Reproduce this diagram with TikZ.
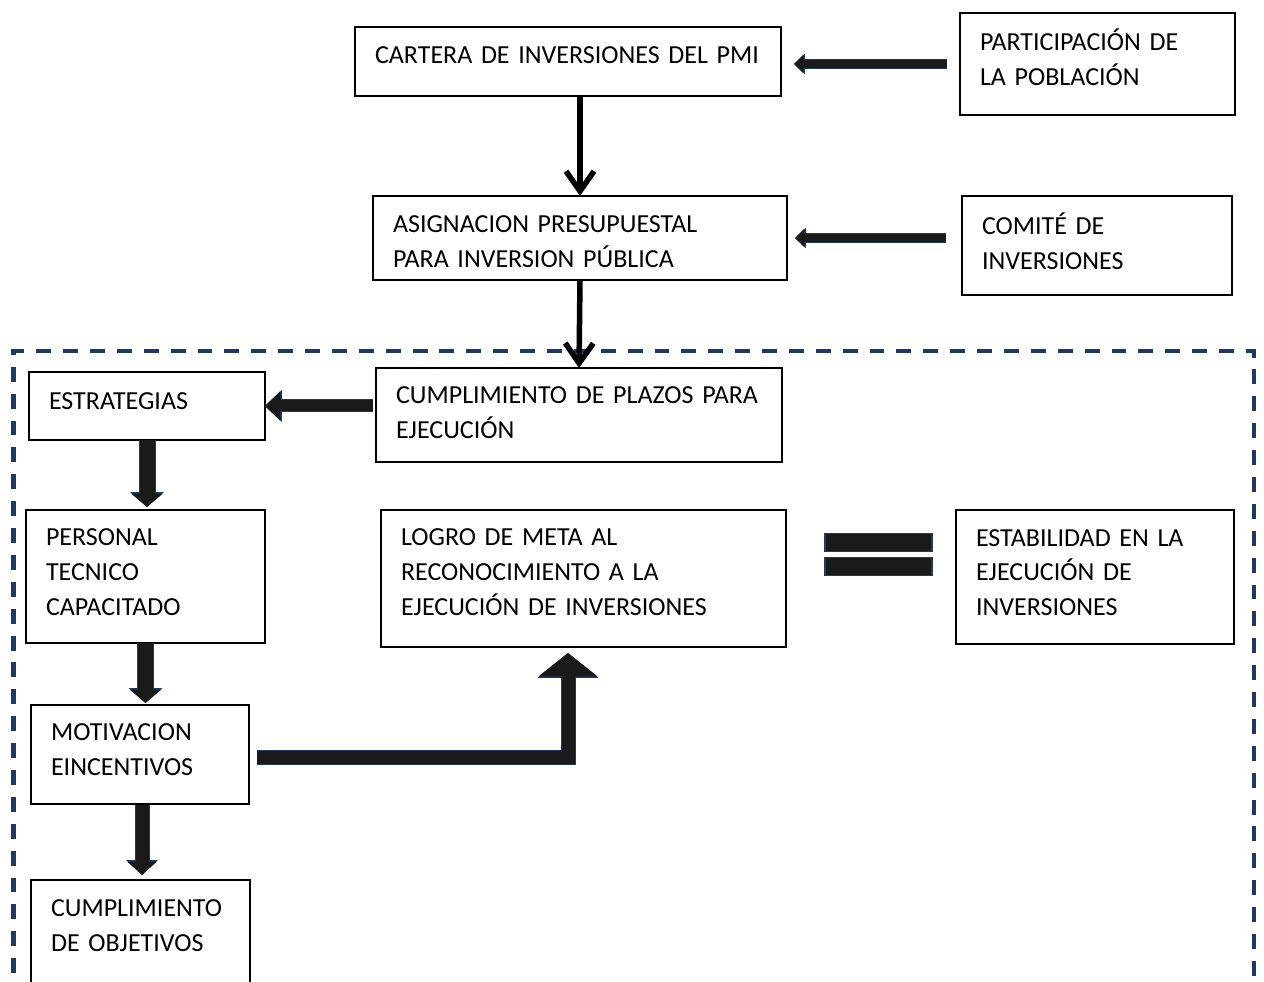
\documentclass[tikz,border=0pt]{standalone}
\usepackage{fontspec}
\setmainfont{Carlito}
\usetikzlibrary{arrows.meta}

\definecolor{navy}{HTML}{1F3864}
\definecolor{arrdark}{HTML}{1A1A1A}

\tikzset{
  box/.style={draw=black, line width=0.65pt, inner sep=0pt, outer sep=0pt, align=left,
    font=\fontsize{14.8}{19.8}\selectfont},
  lift/.style={execute at end node={\par\vspace*{#1}}},
  thinarr/.style={line width=1.1mm, -{Straight Barb[length=4mm, width=5.6mm]}},
  % block arrows: shaft, head width, head length (mm, with outline)
  blk/.style n args={3}{draw=arrdark, line width={(#1-0.4)*1mm},
    -{Triangle[width={(#2-0.4)*1mm}, length={(#3-0.3)*1mm}]},
    preaction={draw=navy, line width={#1*1mm}, -{Triangle[width={#2*1mm}, length={#3*1mm}]}}},
  eqbar/.style={fill=arrdark, draw=navy, line width=0.6pt},
  dashframe/.style={draw=navy, line width=2.3pt, dash pattern=on 8.5pt off 6.8pt}
}

\begin{document}
\begin{tikzpicture}[x=0.02cm, y=-0.02cm]
\useasboundingbox (0,0) rectangle (1264,982);
\clip (0,0) rectangle (1264,982);

% dashed frame
\draw[dashframe] (13.5,1000) -- (13.5,350.7) -- (1254,350.7) -- (1254,1000);

% boxes
\node[box, lift=2.6mm, minimum width=8.52cm, minimum height=1.38cm, text width=7.72cm] (cartera) at (568,61.5) {CARTERA DE INVERSIONES DEL PMI};
\node[box, lift=2.8mm, minimum width=5.5cm, minimum height=2.04cm, text width=4.7cm] (partic) at (1097.5,64) {PARTICIPACIÓN DE\\LA POBLACIÓN};
\node[box, lift=-1.6mm, minimum width=8.28cm, minimum height=1.68cm, text width=7.48cm] (asign) at (580,238) {ASIGNACION PRESUPUESTAL\\PARA INVERSION PÚBLICA};
\node[box, lift=1.6mm, minimum width=5.4cm, minimum height=1.98cm, text width=4.6cm] (comite) at (1097,245.5) {COMITÉ DE\\INVERSIONES};
\node[box, lift=0.8mm, minimum width=8.12cm, minimum height=1.88cm, text width=7.32cm] (plazos) at (579,415) {CUMPLIMIENTO DE PLAZOS PARA\\EJECUCIÓN};
\node[box, lift=2mm, minimum width=4.72cm, minimum height=1.36cm, text width=3.92cm] (estrat) at (147,406) {ESTRATEGIAS};
\node[box, lift=1.8mm, minimum width=4.78cm, minimum height=2.66cm, text width=3.98cm] (personal) at (145.5,576.5) {PERSONAL\\TECNICO\\CAPACITADO};
\node[box, lift=2.6mm, minimum width=8.10cm, minimum height=2.74cm, text width=7.30cm] (logro) at (583.5,578.5) {LOGRO DE META AL\\RECONOCIMIENTO A LA\\EJECUCIÓN DE INVERSIONES};
\node[box, lift=1.8mm, minimum width=5.56cm, minimum height=2.68cm, text width=4.76cm] (estab) at (1095,577) {ESTABILIDAD EN LA\\EJECUCIÓN DE\\INVERSIONES};
\node[box, lift=1.8mm, minimum width=4.36cm, minimum height=1.98cm, text width=3.56cm] (motiv) at (140,754.5) {MOTIVACION\\EINCENTIVOS};
\node[box, lift=5.8mm, minimum width=4.38cm, minimum height=2.4cm, text width=3.58cm] (objet) at (140.5,940) {CUMPLIMIENTO\\DE OBJETIVOS};

% thin arrows
\draw[thinarr] (cartera.south -| asign.north) -- (asign.north);
\draw[thinarr] (asign.south) -- (plazos.north);

% block arrows
\draw[blk={2}{4}{2.2}, shorten <=2.6mm, shorten >=2.6mm] (partic.west) -- (partic.west -| cartera.east);
\draw[blk={2}{4}{2.2}, shorten <=3.2mm, shorten >=1.6mm] (comite.west |- asign.east) -- (asign.east);
\draw[blk={2.6}{6.2}{3.4}, shorten <=0.6mm] (plazos.west |- estrat.east) -- (estrat.east);
\draw[blk={3.4}{6.6}{3}, shorten >=0.6mm] (estrat.south) -- (estrat.south |- personal.north);
\draw[blk={3.4}{6.6}{3}, shorten >=0.4mm] (personal.south) -- (personal.south |- motiv.north);
\draw[blk={3}{6.2}{3}, shorten <=0.2mm, shorten >=1mm] (motiv.south -| 142,0) -- (objet.north -| 142,0);
\coordinate (bend) at (568,757.5);
\draw[blk={3}{12}{5}, shorten <=1.6mm, shorten >=1.2mm] (motiv.east |- bend) -- (bend) -- (bend |- logro.south);

% equals sign
\draw[eqbar] (825,533.5) rectangle (932,551.5);
\draw[eqbar] (825,557.5) rectangle (932,575.5);
\end{tikzpicture}
\end{document}
